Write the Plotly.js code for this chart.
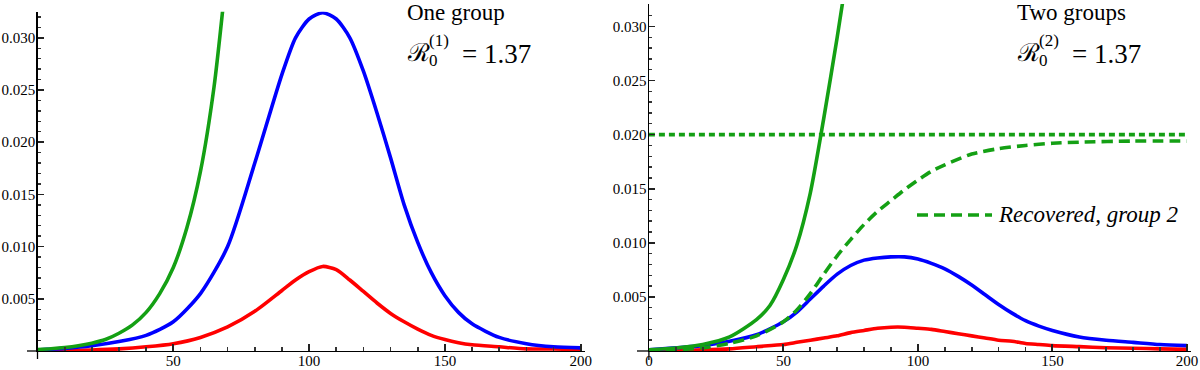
<!DOCTYPE html>
<html>
<head>
<meta charset="utf-8">
<script src="https://cdn.plot.ly/plotly-3.0.1.min.js"></script>
<style>html,body{margin:0;padding:0;background:#fff;}#chart{width:1200px;height:370px;}</style>
</head>
<body>
<div id="chart"></div>
<script>
// ---------- data ----------
// Left panel: one group
const tLeft = [0,10,20,30,40,50,60,70,80,90,95,100,105,110,115,120,125,130,135,140,145,150,155,160,170,180,190,200];
const blueLeft = [0.0001,0.00025,0.0005,0.0009,0.0015,0.0028,0.0055,0.0100,0.0180,0.0265,0.0300,0.0318,0.0324,0.0318,0.0300,0.0268,0.0228,0.0185,0.0140,0.0104,0.0075,0.0053,0.0037,0.0026,0.0013,0.0007,0.0004,0.0003];
const redLeft  = [0.00003,0.00006,0.0001,0.0002,0.0004,0.0007,0.0013,0.0023,0.0038,0.0058,0.0068,0.0076,0.0081,0.0078,0.0068,0.0057,0.0046,0.0036,0.0028,0.0021,0.0015,0.0011,0.0008,0.0006,0.0004,0.0002,0.0002,0.0001];
const tGreenLeft = [0,5,10,15,20,25,30,35,40,45,50,55,60,65,70];
const greenLeft  = [0.00015,0.00022,0.00033,0.0005,0.00075,0.0011,0.0017,0.0025,0.0037,0.0055,0.0080,0.0118,0.0172,0.0253,0.0372];

// Right panel: two groups
const tRight = [0,10,20,30,40,50,55,60,65,70,75,80,85,90,95,100,105,110,115,120,125,130,135,140,145,150,160,170,180,190,200];
const blueRight = [0.0001,0.0003,0.0005,0.0009,0.0015,0.0027,0.0036,0.0048,0.0060,0.0071,0.0079,0.0084,0.0086,0.0087,0.0087,0.0085,0.0081,0.0076,0.0069,0.0061,0.0052,0.0043,0.0035,0.0028,0.0023,0.0019,0.0013,0.0010,0.0008,0.0006,0.0005];
const redRight  = [0.00002,0.00005,0.0001,0.0002,0.0004,0.0006,0.0008,0.0010,0.0012,0.0014,0.0017,0.0019,0.0021,0.0022,0.0022,0.0021,0.0020,0.0018,0.0016,0.0014,0.0012,0.0010,0.0009,0.0007,0.0006,0.0005,0.0004,0.0003,0.00025,0.0002,0.00015];
const tGreenRight = [0,10,20,30,40,45,50,55,60,65,70,75];
const greenRight  = [0.00012,0.00028,0.0006,0.0013,0.0029,0.0042,0.0066,0.0098,0.0146,0.0215,0.0290,0.0370];
const tRecovered = [0,10,20,30,40,50,55,60,65,70,75,80,85,90,95,100,105,110,120,130,140,150,160,180,200];
const recovered2 = [0,0.0001,0.0003,0.0007,0.0014,0.0027,0.0038,0.0053,0.0071,0.0088,0.0103,0.0117,0.0129,0.0139,0.0149,0.0158,0.0166,0.0172,0.0182,0.0187,0.0190,0.0192,0.0193,0.0194,0.0194];
const tLevel = [0,200];
const level2 = [0.020,0.020];

// tick labels
const xTicksLeft = [50,100,150,200];
const xTicksRight = [0,50,100,150,200];
const yTicks = [0.005,0.010,0.015,0.020,0.025,0.030];
const yTickText = ['0.005','0.010','0.015','0.020','0.025','0.030'];

const titleLeft = 'One group';
const titleRight = 'Two groups';
const r0Value = '= 1.37';
const legendLabel = 'Recovered, group 2';

// ---------- styles ----------
const GREEN = '#14a014', BLUE = '#0000ff', RED = '#ff0000';
const LW = 3.6;
const SERIF = 'Liberation Serif, Times New Roman, DejaVu Serif, serif';
const px = v => v/1200, py = v => 1 - v/370;

function line(x, y, color, xa, ya, dash){
  return {x:x, y:y, type:'scatter', mode:'lines', xaxis:xa, yaxis:ya, hoverinfo:'skip',
    line:{color:color, width:LW, shape:'spline', smoothing:0.7, dash:dash||'solid'}, showlegend:false};
}

const traces = [
  line(tLeft, redLeft, RED, 'x', 'y'),
  line(tLeft, blueLeft, BLUE, 'x', 'y'),
  line(tGreenLeft, greenLeft, GREEN, 'x', 'y'),
  line(tRight, redRight, RED, 'x2', 'y2'),
  line(tRight, blueRight, BLUE, 'x2', 'y2'),
  line(tRecovered, recovered2, GREEN, 'x2', 'y2', '11px,6px'),
  line(tLevel, level2, GREEN, 'x2', 'y2', '6px,4px'),
  line(tGreenRight, greenRight, GREEN, 'x2', 'y2')
];

function xAxis(domain, ticks, anchor){
  return {domain:domain, range:[0,201.5], anchor:anchor, showline:true, linecolor:'#000', linewidth:1.3,
    ticks:'inside', ticklen:7, tickwidth:2, tickcolor:'#222', showgrid:false, zeroline:false, layer:'above traces',
    tickmode:'array', tickvals:ticks, ticktext:ticks.map(String), ticklabelstandoff:-4,
    minor:{tick0:0, dtick:10, ticks:'inside', ticklen:4, tickwidth:1.7, tickcolor:'#333', showgrid:false},
    tickfont:{family:SERIF, size:15, color:'#000'}, fixedrange:true};
}
function yAxis(domain, top, anchor){
  return {domain:domain, range:[0,top], anchor:anchor, showline:true, linecolor:'#000', linewidth:1.3,
    ticks:'inside', ticklen:6, tickwidth:1.6, tickcolor:'#222', showgrid:false, zeroline:false, layer:'above traces',
    tickmode:'array', tickvals:yTicks, ticktext:yTickText, ticklabelstandoff:-2,
    minor:{tick0:0, dtick:0.001, ticks:'inside', ticklen:3.5, tickwidth:1.4, tickcolor:'#333', showgrid:false},
    tickfont:{family:SERIF, size:15, color:'#000'}, fixedrange:true};
}

const leftX0 = 37.5, leftX1 = 37.5 + 201.5*2.716;
const rightX0 = 648.9, rightX1 = 648.9 + 201.5*2.69;
const axisY = 351;

function formula(x0, sup){
  return [
    {text:'ℛ', x:px(x0), y:py(52), font:{family:'DejaVu Serif, serif', size:25, color:'#000'}},
    {text:sup, x:px(x0+22), y:py(41), font:{family:SERIF, size:17, color:'#000'}},
    {text:'0', x:px(x0+22), y:py(61), font:{family:SERIF, size:17, color:'#000'}},
    {text:r0Value, x:px(x0+55), y:py(54), font:{family:SERIF, size:27, color:'#000'}}
  ];
}

const annotations = [
  {text:titleLeft, x:px(406), y:py(12), font:{family:SERIF, size:23, color:'#000'}},
  {text:titleRight, x:px(1016), y:py(12), font:{family:SERIF, size:23, color:'#000'}},
  ...formula(406, '(1)'),
  ...formula(1016, '(2)'),
  {text:'<i>'+legendLabel+'</i>', x:px(997), y:py(215), font:{family:SERIF, size:23, color:'#000'}}
].map(a => Object.assign({xref:'paper', yref:'paper', xanchor:'left', yanchor:'middle', showarrow:false, borderpad:0}, a));

const shapes = [
  {type:'line', xref:'paper', yref:'paper', x0:px(27), x1:px(leftX0), y0:py(axisY), y1:py(axisY), line:{color:'#000', width:1.3}},
  {type:'line', xref:'paper', yref:'paper', x0:px(leftX0), x1:px(leftX0), y0:py(axisY), y1:py(359), line:{color:'#000', width:1.3}},
  {type:'line', xref:'paper', yref:'paper', x0:px(637), x1:px(rightX0), y0:py(axisY), y1:py(axisY), line:{color:'#000', width:1.3}},
  {type:'line', xref:'paper', yref:'paper', x0:px(rightX0), x1:px(rightX0), y0:py(axisY), y1:py(360), line:{color:'#000', width:1.3}},
  {type:'line', xref:'paper', yref:'paper', x0:px(917), x1:px(992), y0:py(215), y1:py(215), line:{color:GREEN, width:LW, dash:'11px,6px'}}
];

const layout = {
  width:1200, height:370, margin:{l:0, r:0, t:0, b:0}, paper_bgcolor:'#fff', plot_bgcolor:'rgba(0,0,0,0)',
  showlegend:false,
  xaxis: xAxis([px(leftX0), px(leftX1)], xTicksLeft, 'y'),
  yaxis: yAxis([py(axisY), py(11.7)], 0.0325, 'x'),
  xaxis2: xAxis([px(rightX0), px(rightX1)], xTicksRight, 'y2'),
  yaxis2: yAxis([py(axisY), py(4)], 0.03207, 'x2'),
  annotations: annotations,
  shapes: shapes
};

Plotly.newPlot('chart', traces, layout, {displayModeBar:false, staticPlot:true});
</script>
</body>
</html>
